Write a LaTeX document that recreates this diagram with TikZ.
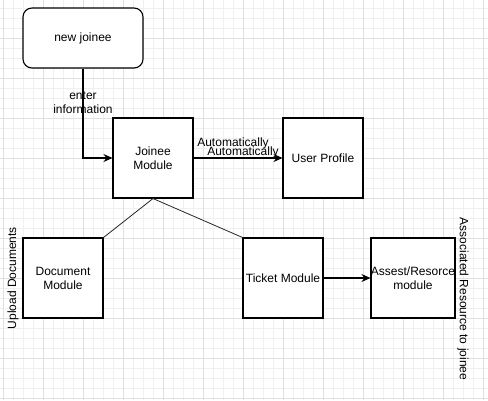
\documentclass[tikz,border=0pt]{standalone}
\usepackage{fontspec}
\setmainfont{Liberation Sans}
\usetikzlibrary{arrows.meta}
\begin{document}
\begin{tikzpicture}[x=1pt,y=-1pt,
  box/.style={draw=black,line width=1.1pt,fill=white,minimum width=80pt,minimum height=80pt,inner sep=0pt,align=center,font=\fontsize{12}{14}\selectfont},
  lbl/.style={inner sep=0pt,align=center,font=\fontsize{12}{14}\selectfont},
  arr/.style={draw=black,line width=1.1pt,-{Stealth[length=9pt,width=8pt]}},
  plain/.style={draw=black!85,line width=0.8pt}]
\useasboundingbox (0,0) rectangle (488,400);
\fill[white] (0,0) rectangle (488,400);
% grid
\foreach \x in {3,13,...,483} \draw[black!6,line width=0.8pt] (\x,0) -- (\x,400);
\foreach \y in {8,18,...,398} \draw[black!6,line width=0.8pt] (0,\y) -- (488,\y);
\foreach \x in {3,43,...,483} \draw[black!12,line width=0.8pt] (\x,0) -- (\x,400);
\foreach \y in {38,78,...,398} \draw[black!12,line width=0.8pt] (0,\y) -- (488,\y);
% nodes
\node[box,minimum width=120pt,minimum height=60pt,rounded corners=9pt] (nj) at (83,38) {new joinee};
\node[box] (jm) at (153,158) {Joinee\\Module};
\node[box] (up) at (323,158) {User Profile};
\node[box] (dm) at (63,278) {Document\\Module};
\node[box] (tm) at (283,278) {Ticket Module};
\node[box] (am) at (413,278) {Assest/Resorce\\module};
\coordinate (bend) at (83,158);
% connectors
\draw[arr] (nj.south) -- (bend) -- (jm.west);
\draw[arr] (jm.east) -- (up.west);
\draw[arr] (tm.east) -- (am.west);
\draw[plain] (jm.south) -- (dm.north east);
\draw[plain] (jm.south) -- (tm.north west);
% labels
\node[lbl,fill=white,fill opacity=0,text opacity=1] (ei) at (83,103) {enter\\information};
\node[lbl] (a1) at (233,143) {Automatically};
\node[lbl] (a2) at (243,152) {Automatically};
\node[lbl,rotate=90] (ud) at (13,278) {Upload Documents};
\node[lbl,rotate=-90] (ar) at (463,299) {Associated Resource to joinee};
\end{tikzpicture}
\end{document}
